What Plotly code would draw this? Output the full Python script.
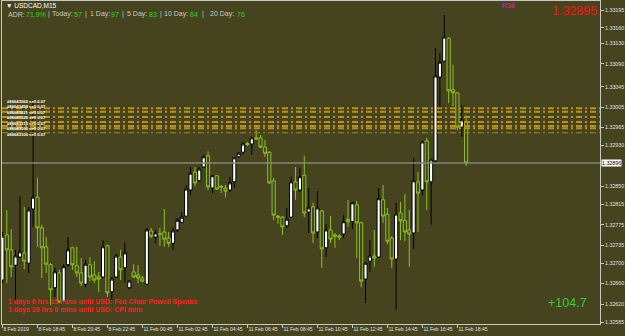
import plotly.graph_objects as go

# ---------------- data ----------------
opens = [1.32667,1.32755,1.32726,1.32696,1.32712,1.32720,1.32700,1.32806,1.32829,1.32769,
         1.32732,1.32697,1.32652,1.32681,1.32624,1.32697,1.32730,1.32695,1.32681,1.32659,
         1.32697,1.32677,1.32673,1.32673,1.32734,1.32644,1.32673,1.32712,1.32691,1.32652,
         1.32683,1.32677,1.32671,1.32659,1.32763,1.32751,1.32757,1.32761,1.32749,1.32739,
         1.32765,1.32780,1.32792,1.32843,1.32878,1.32861,1.32888,1.32910,1.32847,1.32871,
         1.32850,1.32847,1.32843,1.32859,1.32908,1.32917,1.32934,1.32933,1.32945,1.32945,
         1.32927,1.32917,1.32861,1.32792,1.32790,1.32773,1.32790,1.32859,1.32843,1.32872,
         1.32800,1.32810,1.32761,1.32802,1.32730,1.32765,1.32755,1.32753,1.32757,1.32786,
         1.32781,1.32814,1.32779,1.32669,1.32704,1.32714,1.32712,1.32824,1.32796,1.32749,
         1.32708,1.32798,1.32783,1.32765,1.32759,1.32859,1.32843,1.32939,1.32859,1.32900,
         1.33064,1.33095,1.33140,1.33039,1.33033,1.32966,1.32976]
highs = [1.32761,1.32804,1.32767,1.32726,1.32831,1.32810,1.32810,1.33013,1.32867,1.32775,
         1.32751,1.32700,1.32691,1.32687,1.32698,1.32751,1.32732,1.32732,1.32710,1.32706,
         1.32712,1.32704,1.32683,1.32745,1.32736,1.32673,1.32718,1.32726,1.32741,1.32667,
         1.32698,1.32696,1.32675,1.32769,1.32769,1.32765,1.32769,1.32806,1.32761,1.32769,
         1.32788,1.32800,1.32853,1.32888,1.32888,1.32888,1.32912,1.32919,1.32872,1.32872,
         1.32853,1.32853,1.32869,1.32908,1.32917,1.32937,1.32937,1.32947,1.32960,1.32951,
         1.32941,1.32919,1.32867,1.32794,1.32792,1.32808,1.32869,1.32888,1.32886,1.32910,
         1.32847,1.32818,1.32841,1.32804,1.32777,1.32792,1.32759,1.32757,1.32794,1.32824,
         1.32820,1.32822,1.32781,1.32702,1.32745,1.32765,1.32847,1.32853,1.32808,1.32753,
         1.32818,1.32820,1.32835,1.32804,1.32906,1.32878,1.32939,1.32945,1.32904,1.33121,
         1.33111,1.33185,1.33142,1.33088,1.33034,1.33009,1.32989]
lows = [1.32661,1.32661,1.32673,1.32628,1.32710,1.32689,1.32681,1.32771,1.32732,1.32671,
        1.32681,1.32618,1.32634,1.32622,1.32622,1.32693,1.32687,1.32673,1.32655,1.32653,
        1.32665,1.32661,1.32644,1.32671,1.32634,1.32628,1.32671,1.32667,1.32663,1.32649,
        1.32671,1.32661,1.32663,1.32657,1.32749,1.32739,1.32734,1.32732,1.32732,1.32726,
        1.32761,1.32779,1.32790,1.32833,1.32851,1.32859,1.32886,1.32843,1.32837,1.32843,
        1.32837,1.32828,1.32839,1.32847,1.32906,1.32912,1.32929,1.32912,1.32941,1.32925,
        1.32908,1.32855,1.32784,1.32777,1.32755,1.32769,1.32788,1.32824,1.32839,1.32790,
        1.32759,1.32739,1.32749,1.32691,1.32712,1.32739,1.32730,1.32745,1.32749,1.32771,
        1.32767,1.32710,1.32653,1.32622,1.32683,1.32693,1.32710,1.32779,1.32737,1.32691,
        1.32609,1.32745,1.32743,1.32693,1.32728,1.32761,1.32833,1.32804,1.32775,1.32898,
        1.32994,1.33093,1.33013,1.33007,1.32960,1.32947,1.32890]
closes = [1.32753,1.32726,1.32693,1.32714,1.32722,1.32704,1.32804,1.32829,1.32769,1.32730,
          1.32698,1.32648,1.32683,1.32624,1.32693,1.32726,1.32697,1.32681,1.32661,1.32698,
          1.32673,1.32667,1.32669,1.32732,1.32642,1.32669,1.32714,1.32687,1.32720,1.32665,
          1.32673,1.32671,1.32665,1.32765,1.32753,1.32759,1.32757,1.32747,1.32739,1.32763,
          1.32784,1.32790,1.32845,1.32876,1.32857,1.32884,1.32908,1.32849,1.32871,1.32845,
          1.32849,1.32841,1.32857,1.32906,1.32915,1.32933,1.32932,1.32945,1.32943,1.32927,
          1.32915,1.32857,1.32794,1.32790,1.32771,1.32786,1.32859,1.32843,1.32869,1.32798,
          1.32808,1.32759,1.32808,1.32728,1.32765,1.32747,1.32753,1.32751,1.32781,1.32781,
          1.32818,1.32779,1.32665,1.32700,1.32714,1.32710,1.32826,1.32792,1.32743,1.32708,
          1.32796,1.32783,1.32761,1.32757,1.32861,1.32837,1.32937,1.32859,1.32902,1.33066,
          1.33093,1.33142,1.33037,1.33033,1.32966,1.32980,1.32896]

time_labels = ["8 Feb 2019", "8 Feb 18:45", "8 Feb 20:45", "8 Feb 22:45", "11 Feb 00:45",
               "11 Feb 02:45", "11 Feb 04:45", "11 Feb 06:45", "11 Feb 08:45", "11 Feb 10:45",
               "11 Feb 12:45", "11 Feb 14:45", "11 Feb 16:45", "11 Feb 18:45"]
bars_per_label = 8

price_ticks = [1.33195, 1.33160, 1.33130, 1.33090, 1.33045, 1.33005, 1.32965, 1.32930,
               1.32850, 1.32815, 1.32775, 1.32735, 1.32700, 1.32660, 1.32620, 1.32585]

order_prices = [1.33003, 1.32996, 1.32986, 1.32976, 1.32968, 1.32964, 1.32955]
order_labels = ["#86643560 sell 0.07", "#86643498 sell 0.07", "#86643411 sell 0.07",
                "#86643322 sell 0.07", "#86643215 sell 0.07", "#86643160 sell 0.07",
                "#86643100 sell 0.07"]

adr_items = [("ADR:", "71.9%"), ("Today:", "57"), ("1 Day:", "97"), ("5 Day:", "83"),
             ("10 Day:", "84"), ("20 Day:", "76")]

events = ["1 days 0 hrs 15 mins until USD: Fed Chair Powell Speaks",
          "1 days 20 hrs 0 mins until USD: CPI m/m"]

symbol = "USDCAD,M15"
big_price = "1.32895"
profit = "+104.7"

# ---------------- styling / layout ----------------
BG = "#46441f"
W, H = 625, 336
ML, MR, MT, MB = 2, 25, 1, 12
PW, PH = W - ML - MR, H - MT - MB
XR = [-0.1, 136.6]
YR = [1.325811, 1.332126]
FONT = "Liberation Sans"

def px(x, y):
    return (x - ML) / PW, 1 - (y - MT) / PH

n = len(closes)
xs = list(range(n))

fig = go.Figure()
fig.add_trace(go.Candlestick(
    x=xs, open=opens, high=highs, low=lows, close=closes,
    increasing=dict(line=dict(color="#000000", width=1), fillcolor="#ffffff"),
    decreasing=dict(line=dict(color="#8cc220", width=1), fillcolor=BG),
    whiskerwidth=0, showlegend=False, hoverinfo="skip"))

shapes = []
shapes.append(dict(type="line", xref="paper", yref="y", x0=0, x1=1,
                   y0=closes[-1], y1=closes[-1], line=dict(color="#86867c", width=1.5)))
for i, p in enumerate(order_prices):
    last = i == len(order_prices) - 1
    shapes.append(dict(type="line", xref="paper", yref="y", x0=0, x1=1, y0=p, y1=p,
                       line=dict(color="#a8841e" if last else "#b8901c",
                                 width=1 if last else 2, dash="6px,3px,2px,3px")))

ann = []
x0, y0 = px(4, 5)
ann.append(dict(x=x0, y=y0, xref="paper", yref="paper", xanchor="left", yanchor="middle",
                text="\u25bc " + symbol, showarrow=False,
                font=dict(family=FONT, size=6.5, color="#ffffff")))
adr_x = [(6, 24), (50, 72), (88, 109), (125, 147), (162, 188), (208, 235)]
sep_x = [46, 83, 120, 158, 200]
for (lab, val), (xl, xv) in zip(adr_items, adr_x):
    a, b = px(xl, 14)
    ann.append(dict(x=a, y=b, xref="paper", yref="paper", xanchor="left", yanchor="middle",
                    text=lab, showarrow=False,
                    font=dict(family=FONT, size=7, color="#c8c8c8")))
    a, b = px(xv, 14)
    ann.append(dict(x=a, y=b, xref="paper", yref="paper", xanchor="left", yanchor="middle",
                    text=val, showarrow=False,
                    font=dict(family=FONT, size=7, color="#22dd22")))
for sx in sep_x:
    a, b = px(sx, 14)
    ann.append(dict(x=a, y=b, xref="paper", yref="paper", xanchor="left", yanchor="middle",
                    text="|", showarrow=False,
                    font=dict(family=FONT, size=7, color="#c8c8c8")))
a, b = px(500, 5)
ann.append(dict(x=a, y=b, xref="paper", yref="paper", xanchor="left", yanchor="middle",
                text="R38", showarrow=False,
                font=dict(family=FONT, size=7, color="#d020d0")))
a, b = px(599, 11)
ann.append(dict(x=a, y=b, xref="paper", yref="paper", xanchor="right", yanchor="middle",
                text=big_price, showarrow=False,
                font=dict(family=FONT, size=12.5, color="#ff1010")))
a, b = px(589, 303)
ann.append(dict(x=a, y=b, xref="paper", yref="paper", xanchor="right", yanchor="middle",
                text=profit, showarrow=False,
                font=dict(family=FONT, size=12.5, color="#33cc33")))
for k, ev in enumerate(events):
    a, b = px(6, 302 + 7.5 * k)
    ann.append(dict(x=a, y=b, xref="paper", yref="paper", xanchor="left", yanchor="middle",
                    text="<b>" + ev + "</b>", showarrow=False,
                    font=dict(family=FONT, size=7, color="#ff2020")))
# order labels as one stacked text block
a, b = px(5, 97)
ann.append(dict(x=a, y=b, xref="paper", yref="paper", xanchor="left", yanchor="top",
                text="<b>" + "<br>".join(order_labels) + "</b>", showarrow=False, align="left",
                font=dict(family=FONT, size=4.2, color="#ffffff")))
ann.append(dict(x=px(601, 0)[0], y=closes[-1], xref="paper", yref="y", xanchor="left",
                yanchor="middle", text=f"{closes[-1]:.5f}", showarrow=False,
                bgcolor="#ffffff", borderpad=0,
                font=dict(family=FONT, size=5.3, color="#000000")))

fig.update_layout(
    width=W, height=H, margin=dict(l=ML, r=MR, t=MT, b=MB),
    paper_bgcolor=BG, plot_bgcolor=BG, showlegend=False,
    boxgap=0.15, boxgroupgap=0.15,
    shapes=shapes, annotations=ann,
    xaxis=dict(range=XR, showgrid=False, zeroline=False, rangeslider=dict(visible=False),
               tickmode="array", tickvals=[i * bars_per_label for i in range(len(time_labels))],
               ticktext=time_labels, ticks="outside", ticklen=3, tickcolor="#c8c8c8",
               ticklabelposition="outside right", tickangle=0,
               tickfont=dict(family=FONT, size=5, color="#e0e0e0"),
               showline=True, linecolor="#c8c8c8", linewidth=1, mirror=True),
    yaxis=dict(range=YR, side="right", showgrid=False, zeroline=False,
               tickmode="array", tickvals=price_ticks, ticktext=[f"{v:.5f}" for v in price_ticks],
               ticks="outside", ticklen=3, tickcolor="#c8c8c8",
               tickfont=dict(family=FONT, size=5.3, color="#e0e0e0"),
               showline=True, linecolor="#c8c8c8", linewidth=1, mirror=True),
)

fig.write_html("out.html")
